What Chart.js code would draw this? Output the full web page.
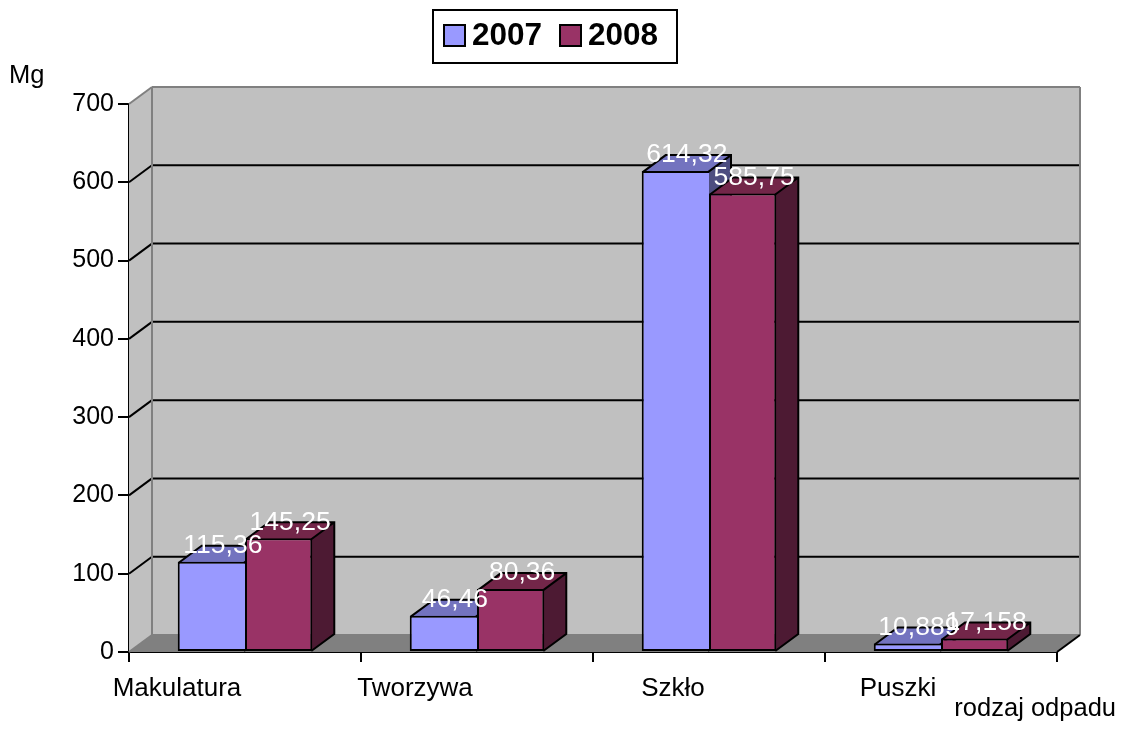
<!DOCTYPE html>
<html>
<head>
<meta charset="utf-8">
<title>Odpady</title>
<script src="https://cdn.jsdelivr.net/npm/chart.js@4"></script>
<style>
    body { margin: 0; background: #fff; }
    canvas { display: block; }
</style>
</head>
<body>
<canvas id="wasteChart" width="1125" height="749"></canvas>
<script>
//data
const categories = ['Makulatura', 'Tworzywa', 'Szkło', 'Puszki'];
const values2007 = [115.36, 46.46, 614.32, 10.889];
const values2008 = [145.25, 80.36, 585.75, 17.158];
const seriesNames = ['2007', '2008'];
const yTitle = 'Mg';
const xTitle = 'rodzaj odpadu';

//variables for the colors on the chart
const color2007 = '#9999FF';
const color2008 = '#993366';
const topColors = ['#7373BF', '#732649'];
const sideColors = ['#4D4D80', '#4D1A33'];
const wallColor = '#C0C0C0';
const floorColor = '#808080';
const edgeColor = '#808080';
const lineColor = '#000000';
const fontName = "'Liberation Sans', Arial, sans-serif";

//how far the fake 3d depth goes
const depthX = 23;
const depthY = 17;

//the category labels sit left of the centre of their band in the original
const labelShift = [-68, -62, -36, -43];

function fillShape(ctx, points, color) {
    ctx.beginPath();
    points.forEach((p, i) => i ? ctx.lineTo(p[0], p[1]) : ctx.moveTo(p[0], p[1]));
    ctx.closePath();
    ctx.fillStyle = color;
    ctx.fill();
}

function strokeLine(ctx, x1, y1, x2, y2, color) {
    ctx.beginPath();
    ctx.moveTo(x1, y1);
    ctx.lineTo(x2, y2);
    ctx.strokeStyle = color;
    ctx.lineWidth = 2;
    ctx.stroke();
}

//walls, floor and gridlines behind the bars
function drawWalls(chart) {
    const ctx = chart.ctx;
    const { left, right, top, bottom } = chart.chartArea;
    const yScale = chart.scales.y;

    fillShape(ctx, [[left, bottom], [left, top], [left + depthX, top - depthY], [left + depthX, bottom - depthY]], wallColor);
    fillShape(ctx, [[left + depthX, top - depthY], [right + depthX, top - depthY], [right + depthX, bottom - depthY], [left + depthX, bottom - depthY]], wallColor);
    fillShape(ctx, [[left, bottom], [right, bottom], [right + depthX, bottom - depthY], [left + depthX, bottom - depthY]], floorColor);

    yScale.ticks.forEach((tick) => {
        const y = yScale.getPixelForValue(tick.value);
        if (tick.value > 0 && tick.value < yScale.max) {
            strokeLine(ctx, left, y, left + depthX, y - depthY, lineColor);
            strokeLine(ctx, left + depthX, y - depthY, right + depthX, y - depthY, lineColor);
        }
    });

    strokeLine(ctx, left, top, left + depthX, top - depthY, edgeColor);
    strokeLine(ctx, left + depthX, top - depthY, right + depthX, top - depthY, edgeColor);
    strokeLine(ctx, left + depthX, top - depthY, left + depthX, bottom - depthY, edgeColor);
    strokeLine(ctx, right + depthX, top - depthY, right + depthX, bottom - depthY, edgeColor);
    strokeLine(ctx, left, bottom, left + depthX, bottom - depthY, edgeColor);
    strokeLine(ctx, left + depthX, bottom - depthY, right + depthX, bottom - depthY, edgeColor);
    strokeLine(ctx, right, bottom, right + depthX, bottom - depthY, lineColor);
}

//top and side of every bar, the front is the normal chart.js bar
function drawBarDepth(chart) {
    const ctx = chart.ctx;
    chart.data.datasets.forEach((dataset, d) => {
        chart.getDatasetMeta(d).data.forEach((bar) => {
            //inset by half the border so the lines meet the front rectangle
            const l = bar.x - bar.width / 2 + 1;
            const r = bar.x + bar.width / 2 - 1;
            const t = bar.y + 1;
            const topFace = [[l, t], [l + depthX, t - depthY], [r + depthX, t - depthY], [r, t]];
            const sideFace = [[r, t], [r + depthX, t - depthY], [r + depthX, bar.base - depthY], [r, bar.base]];
            fillShape(ctx, topFace, topColors[d]);
            fillShape(ctx, sideFace, sideColors[d]);
            ctx.beginPath();
            ctx.moveTo(l, t);
            ctx.lineTo(l + depthX, t - depthY);
            ctx.lineTo(r + depthX, t - depthY);
            ctx.lineTo(r + depthX, bar.base - depthY);
            ctx.lineTo(r, bar.base);
            ctx.moveTo(r, t);
            ctx.lineTo(r + depthX, t - depthY);
            ctx.strokeStyle = lineColor;
            ctx.lineWidth = 2;
            ctx.stroke();
        });
    });
}

//white value labels, decimal comma like the original
function drawValueLabels(chart) {
    const ctx = chart.ctx;
    ctx.font = '26.5px ' + fontName;
    ctx.fillStyle = '#FFFFFF';
    ctx.textAlign = 'center';
    ctx.textBaseline = 'middle';
    chart.data.datasets.forEach((dataset, d) => {
        chart.getDatasetMeta(d).data.forEach((bar, i) => {
            const text = String(dataset.data[i]).replace('.', ',');
            ctx.fillText(text, bar.x + depthX / 2, bar.y - depthY + 1);
        });
    });
}

//legend box at the top, the built in one can't put the text this close to the swatch
function drawLegend(chart) {
    const ctx = chart.ctx;
    ctx.fillStyle = '#FFFFFF';
    ctx.fillRect(433, 10, 244, 53);
    ctx.strokeStyle = lineColor;
    ctx.lineWidth = 2;
    ctx.strokeRect(433, 10, 244, 53);

    ctx.font = 'bold 31.5px ' + fontName;
    ctx.textAlign = 'left';
    ctx.textBaseline = 'middle';
    chart.data.datasets.forEach((dataset, d) => {
        const x = 444 + d * 116;
        ctx.fillStyle = dataset.backgroundColor;
        ctx.fillRect(x, 25, 21, 21);
        ctx.strokeRect(x, 25, 21, 21);
        ctx.fillStyle = lineColor;
        ctx.fillText(dataset.label, x + 28, 36.5);
    });
}

function drawTitles(chart) {
    const ctx = chart.ctx;
    ctx.font = '25.5px ' + fontName;
    ctx.fillStyle = lineColor;
    ctx.textBaseline = 'middle';
    ctx.textAlign = 'left';
    ctx.fillText(yTitle, 9, 76);
    ctx.textAlign = 'right';
    ctx.fillText(xTitle, 1116, 709);
}

const fakeDepthPlugin = {
    id: 'fakeDepth',
    afterLayout(chart) {
        chart.scales.x.getLabelItems().forEach((item, i) => {
            item.options.translation[0] += labelShift[i];
        });
    },
    beforeDatasetsDraw(chart) {
        drawWalls(chart);
        drawBarDepth(chart);
    },
    afterDatasetsDraw(chart) {
        drawValueLabels(chart);
        drawLegend(chart);
        drawTitles(chart);
    }
};

const ctxBar = document.getElementById('wasteChart');

const wasteChart = new Chart(ctxBar, {
    type: 'bar',
    data: {
        labels: categories,
        datasets: [
            {
                label: seriesNames[0],
                data: values2007,
                backgroundColor: color2007,
                borderColor: lineColor,
                //no right border, the 2008 bar draws the line between them
                borderWidth: { top: 2, left: 2, bottom: 2, right: 0 },
                borderSkipped: false
            },
            {
                label: seriesNames[1],
                data: values2008,
                backgroundColor: color2008,
                borderColor: lineColor,
                borderWidth: 2,
                borderSkipped: false
            }
        ]
    },
    options: {
        responsive: false,
        animation: false,
        layout: {
            padding: { top: 104, right: 68, bottom: 0, left: 0 }
        },
        plugins: {
            legend: { display: false },
            tooltip: { enabled: false }
        },
        datasets: {
            bar: { categoryPercentage: 0.58, barPercentage: 1 }
        },
        scales: {
            x: {
                afterFit: (scale) => { scale.height = 97; },
                grid: { drawOnChartArea: false, color: lineColor, lineWidth: 2, tickLength: 10 },
                border: { color: lineColor, width: 2 },
                ticks: { color: lineColor, font: { family: fontName, size: 26 }, padding: 11, maxRotation: 0 }
            },
            y: {
                min: 0,
                max: 700,
                afterFit: (scale) => { scale.width = 129; },
                grid: { drawOnChartArea: false, color: lineColor, lineWidth: 2, tickLength: 11 },
                border: { color: lineColor, width: 2 },
                ticks: { stepSize: 100, color: lineColor, font: { family: fontName, size: 25 }, padding: 4 }
            }
        }
    },
    plugins: [fakeDepthPlugin]
});
</script>
</body>
</html>
